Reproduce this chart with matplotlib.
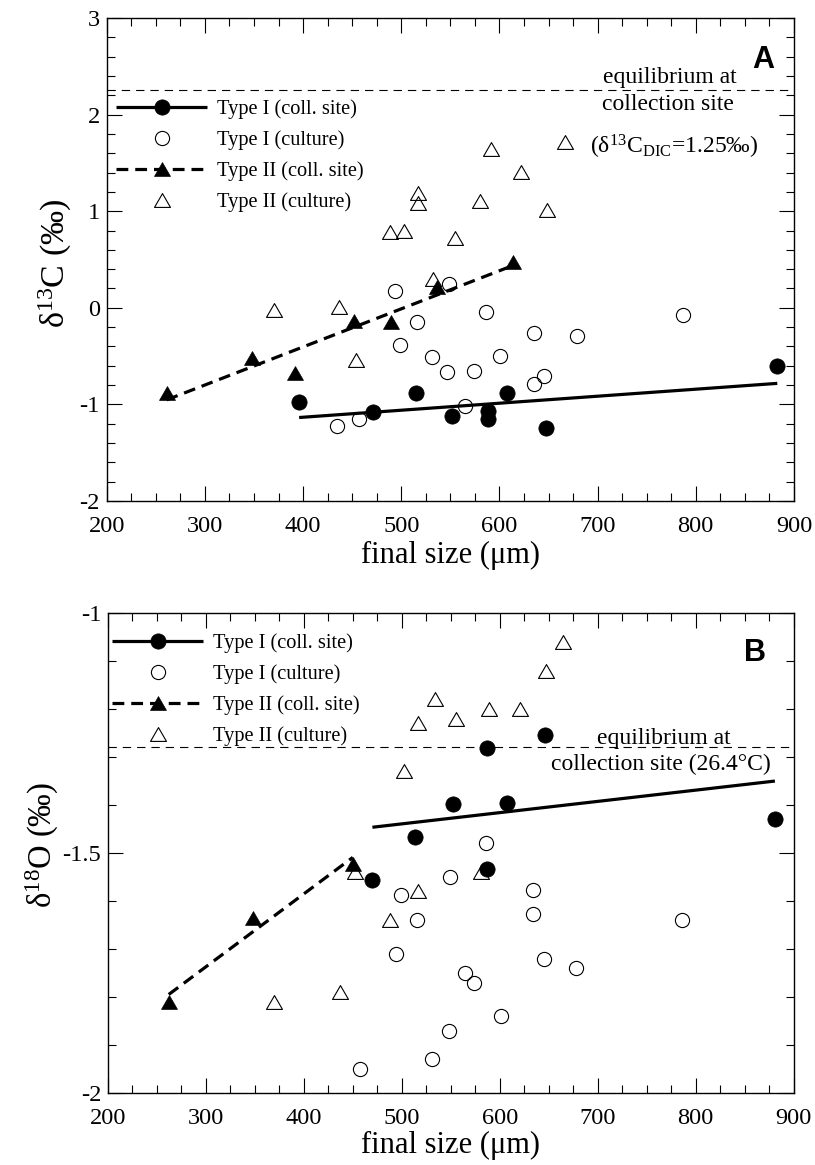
import numpy as np
import matplotlib
matplotlib.use("Agg")
import matplotlib.pyplot as plt
from matplotlib.path import Path
from matplotlib.legend_handler import HandlerTuple
from matplotlib.ticker import MultipleLocator, FuncFormatter

# ---------------- data ----------------
# Panel A : d13C
a_t1_coll_x = [396, 471, 515, 552, 588, 588, 608, 647, 883]
a_t1_coll_y = [-0.98, -1.08, -0.88, -1.12, -1.07, -1.15, -0.88, -1.24, -0.60]
a_t1_cult_x = [435, 457, 494, 499, 516, 531, 547, 549, 565, 574, 586, 601, 635, 635, 645, 679, 787]
a_t1_cult_y = [-1.22, -1.15, 0.17, -0.39, -0.15, -0.51, -0.66, 0.25, -1.02, -0.65, -0.04, -0.50,
               -0.26, -0.79, -0.71, -0.29, -0.07]
a_t2_coll_x = [261, 348, 392, 452, 490, 536, 614]
a_t2_coll_y = [-0.88, -0.52, -0.68, -0.14, -0.15, 0.22, 0.47]
a_t2_cult_x = [370, 437, 454, 489, 503, 517, 517, 532, 555, 580, 591, 622, 648, 667]
a_t2_cult_y = [-0.02, 0.01, -0.54, 0.78, 0.80, 1.19, 1.08, 0.30, 0.72, 1.11, 1.64, 1.41, 1.01, 1.72]
a_equilibrium = 2.25

# Panel B : d18O
b_t1_coll_x = [470, 514, 552, 587, 587, 607, 646, 881]
b_t1_coll_y = [-1.557, -1.467, -1.398, -1.282, -1.534, -1.395, -1.254, -1.430]
b_t1_cult_x = [457, 494, 499, 516, 531, 548, 549, 565, 574, 586, 601, 634, 634, 645, 678, 786]
b_t1_cult_y = [-1.95, -1.71, -1.587, -1.64, -1.93, -1.87, -1.55, -1.75, -1.77, -1.48, -1.84,
               -1.578, -1.628, -1.72, -1.74, -1.64]
b_t2_coll_x = [262, 348, 450]
b_t2_coll_y = [-1.81, -1.636, -1.522]
b_t2_cult_x = [370, 437, 452, 488, 502, 517, 517, 534, 555, 581, 589, 621, 647, 665]
b_t2_cult_y = [-1.81, -1.79, -1.54, -1.64, -1.33, -1.23, -1.58, -1.18, -1.22, -1.54, -1.20,
               -1.20, -1.12, -1.06]
b_equilibrium = -1.28

legend_labels = ["Type I (coll. site)", "Type I (culture)", "Type II (coll. site)", "Type II (culture)"]

# ---------------- style ----------------
plt.rcParams['font.family'] = ['Liberation Serif', 'DejaVu Serif']
plt.rcParams['mathtext.fontset'] = 'custom'
plt.rcParams['mathtext.rm'] = 'Liberation Serif'
plt.rcParams['mathtext.it'] = 'Liberation Serif:italic'
plt.rcParams['mathtext.bf'] = 'Liberation Serif:bold'
plt.rcParams['axes.unicode_minus'] = False
plt.rcParams['lines.scale_dashes'] = False

h = 0.866
TRI = Path([(0, h), (-1, -h), (1, -h), (0, h)], closed=True)

fig = plt.figure(figsize=(8.15, 11.65), dpi=100)
axA = fig.add_axes([0.13092, 0.56996, 0.84331, 0.41459])
axB = fig.add_axes([0.13252, 0.06180, 0.84110, 0.41202])

fmt = FuncFormatter(lambda v, p: '%g' % v)


def fit_line(ax, x, y, dashed):
    x = np.asarray(x, float)
    y = np.asarray(y, float)
    k, b = np.polyfit(x, y, 1)
    xs = np.array([x.min(), x.max()])
    ln, = ax.plot(xs, k * xs + b, color='black', lw=2.3,
                  linestyle=(0, (8.5, 5)) if dashed else '-', solid_capstyle='butt',
                  dash_capstyle='butt', zorder=3)
    return ln


def panel(ax, t1c_x, t1c_y, t1u_x, t1u_y, t2c_x, t2c_y, t2u_x, t2u_y, eq):
    ax.axhline(eq, color='black', lw=0.8, linestyle=(0, (6, 4.3)), zorder=1)
    l1 = fit_line(ax, t1c_x, t1c_y, False)
    l3 = fit_line(ax, t2c_x, t2c_y, True)
    p2, = ax.plot(t1u_x, t1u_y, 'o', ms=10.2, mfc='none', mec='black', mew=0.8, zorder=4)
    p4, = ax.plot(t2u_x, t2u_y, linestyle='none', marker=TRI, ms=11.5, mfc='none',
                  mec='black', mew=0.8, zorder=4)
    p1, = ax.plot(t1c_x, t1c_y, 'o', ms=11, mfc='black', mec='black', mew=0.5, zorder=5)
    p3, = ax.plot(t2c_x, t2c_y, linestyle='none', marker=TRI, ms=11.5, mfc='black',
                  mec='black', mew=0.5, zorder=5)
    ax.set_xlim(200, 900)
    ax.xaxis.set_major_locator(MultipleLocator(100))
    ax.xaxis.set_minor_locator(MultipleLocator(25))
    ax.tick_params(which='both', direction='in', top=True, right=True, width=0.8,
                   labelsize=17.6)
    ax.tick_params(which='major', length=11)
    ax.tick_params(which='minor', length=5.5)
    ax.tick_params(axis='x', pad=11)
    ax.tick_params(axis='y', pad=5)
    ax.yaxis.set_major_formatter(fmt)
    for s in ax.spines.values():
        s.set_linewidth(1.0)
    ax.set_xlabel('final size (μm)', fontsize=22)
    ax.xaxis.label.set_va('center')
    return [(l1, p1), p2, (l3, p3), p4]


hA = panel(axA, a_t1_coll_x, a_t1_coll_y, a_t1_cult_x, a_t1_cult_y,
           a_t2_coll_x, a_t2_coll_y, a_t2_cult_x, a_t2_cult_y, a_equilibrium)
axA.set_ylim(-2, 3)
axA.yaxis.set_major_locator(MultipleLocator(1))
axA.yaxis.set_minor_locator(MultipleLocator(0.2))
axA.set_ylabel('δ$^{13}$C (‰)', fontsize=24.5)
axA.yaxis.label.set_va('center')
axA.yaxis.set_label_coords(-0.0752, 0.4928)
axA.xaxis.set_label_coords(0.5, -0.1118)

hB = panel(axB, b_t1_coll_x, b_t1_coll_y, b_t1_cult_x, b_t1_cult_y,
           b_t2_coll_x, b_t2_coll_y, b_t2_cult_x, b_t2_cult_y, b_equilibrium)
axB.set_ylim(-2, -1)
axB.yaxis.set_major_locator(MultipleLocator(0.5))
axB.yaxis.set_minor_locator(MultipleLocator(0.1))
axB.set_ylabel('δ$^{18}$O (‰)', fontsize=23.5)
axB.yaxis.label.set_va('center')
axB.yaxis.set_label_coords(-0.0950, 0.5167)
axB.xaxis.set_label_coords(0.5, -0.110)

leg_kw = dict(frameon=False, fontsize=14.7, handlelength=4.46, handletextpad=0.49,
              labelspacing=0.56, borderpad=0, borderaxespad=0, loc='upper left',
              handler_map={tuple: HandlerTuple(ndivide=1)})
axA.legend(hA, legend_labels, bbox_to_anchor=(0.0135, 0.8323), **leg_kw)
axB.legend(hB, legend_labels, bbox_to_anchor=(0.0058, 0.9583), **leg_kw)

# annotations
axA.text(0.8196, 0.8654, 'equilibrium at', transform=axA.transAxes, ha='center',
         va='baseline', fontsize=17)
axA.text(0.8166, 0.8095, 'collection site', transform=axA.transAxes, ha='center',
         va='baseline', fontsize=17)
axA.text(0.8254, 0.7200, '(δ$^{13}$C$_{\\mathrm{DIC}}$=1.25‰)', transform=axA.transAxes,
         ha='center', va='baseline', fontsize=17)
axA.text(0.955, 0.913, 'A', transform=axA.transAxes, ha='center', va='center',
         fontsize=22, fontweight='bold', family='Liberation Sans')

axB.text(0.811, 0.727, 'equilibrium at', transform=axB.transAxes, ha='center',
         va='baseline', fontsize=17)
axB.text(0.806, 0.673, 'collection site (26.4°C)', transform=axB.transAxes, ha='center',
         va='baseline', fontsize=17)
axB.text(0.944, 0.917, 'B', transform=axB.transAxes, ha='center', va='center',
         fontsize=22, fontweight='bold', family='Liberation Sans')

fig.savefig('out.png', dpi=100)
